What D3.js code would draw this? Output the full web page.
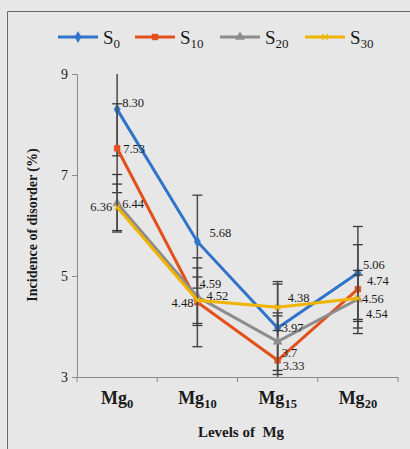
<!DOCTYPE html>
<html>
<head>
<meta charset="utf-8">
<script src="https://cdn.jsdelivr.net/npm/d3@7"></script>
<style>
  body { margin: 0; background: #e7e7e7; }
  svg { display: block; }
  text { font-family: "Liberation Serif", "Times New Roman", serif; fill: #1a1a1a; }
</style>
</head>
<body>
<div class="graph"></div>
<script>
// chart data
const levels = ["0", "10", "15", "20"];           // Mg subscripts
const seriesNames = ["0", "10", "20", "30"];     // S subscripts
const s0 = [8.30, 5.68, 3.97, 5.06];
const s10 = [7.53, 4.48, 3.33, 4.74];
const s20 = [6.44, 4.59, 3.70, 4.54];
const s30 = [6.36, 4.52, 4.38, 4.56];
const errors = [0.92, 0.88, 0.57, 0.46];          // one error size per series
const labelText = [
  ["8.30", "5.68", "3.97", "5.06"],
  ["7.53", "4.48", "3.33", "4.74"],
  ["6.44", "4.59", "3.7", "4.54"],
  ["6.36", "4.52", "4.38", "4.56"]
];
const yTicks = [3, 5, 7, 9];

const values = [s0, s10, s20, s30];
const colors = ["#2f74c9", "#e4501c", "#8c8c8c", "#f0b400"];
const markers = [d3.symbolDiamond, d3.symbolSquare, d3.symbolTriangle, d3.symbolCross];

// where each data label sits relative to its point [dx, dy, anchor]
const labelPlace = [
  [[5, -6, "start"], [12, -9, "start"], [4, 0, "start"], [5, -8, "start"]],
  [[6, 1, "start"], [-4, 1, "end"], [5, 6, "start"], [9, -8, "start"]],
  [[5, 1, "start"], [2, -13, "start"], [4, 11, "start"], [8, 15, "start"]],
  [[-5, 0, "end"], [9, -4, "start"], [10, -9, "start"], [4, 1, "start"]]
];

const w = 410, h = 449;
const svg = d3.select(".graph").append("svg").attr("width", w).attr("height", h);

// outer frame
svg.append("path")
  .attr("d", "M7.5," + h + "V11.5H" + (w + 2))
  .attr("fill", "none").attr("stroke", "#6a6a6a").attr("stroke-width", 1);

const xScale = d3.scaleBand().domain(levels).range([77, 398]).padding(0);
const yScale = d3.scaleLinear().domain([3, 9]).range([377, 74]);
const cx = (i) => xScale(levels[i]) + xScale.bandwidth() / 2;

// y axis
const yAxis = svg.append("g").attr("transform", "translate(77,0)")
  .call(d3.axisLeft(yScale).tickValues(yTicks).tickSize(5).tickFormat(d3.format("d")));
yAxis.select(".domain").attr("stroke", "#8a8a8a");
yAxis.selectAll(".tick line").attr("stroke", "#8a8a8a");
yAxis.selectAll(".tick text").attr("font-size", 14).attr("font-family", "Liberation Serif").attr("fill", "#222").attr("x", -9);

// x axis
const xAxis = svg.append("g").attr("transform", "translate(0,377)")
  .call(d3.axisBottom(xScale).tickSize(0).tickFormat(""));
xAxis.select(".domain").attr("stroke", "#8a8a8a");
xScale.domain().forEach(function(d, i) {
  const x0 = xScale(d);
  xAxis.append("line").attr("x1", x0).attr("x2", x0).attr("y1", 0).attr("y2", 5).attr("stroke", "#8a8a8a");
  if (i === levels.length - 1) {
    xAxis.append("line").attr("x1", x0 + xScale.bandwidth()).attr("x2", x0 + xScale.bandwidth())
      .attr("y1", 0).attr("y2", 5).attr("stroke", "#8a8a8a");
  }
  const t = xAxis.append("text").attr("x", cx(i)).attr("y", 27)
    .attr("text-anchor", "middle").attr("font-weight", "bold").attr("font-size", 18).attr("fill", "#1a1a3a");
  t.append("tspan").text("Mg");
  t.append("tspan").attr("dy", 4).attr("font-size", 12.5).text(d);
});

// axis titles
svg.append("text").attr("x", 241).attr("y", 437)
  .attr("text-anchor", "middle").attr("font-weight", "bold").attr("font-size", 15)
  .text("Levels of\u00a0\u00a0Mg");
svg.append("text").attr("transform", "translate(37,225) rotate(-90)")
  .attr("text-anchor", "middle").attr("font-weight", "bold").attr("font-size", 14)
  .text("Incidence of disorder (%)");

// series: error bars, line, markers
const line = d3.line().x((d, i) => cx(i)).y((d) => yScale(d));
const markPath = (s) => s === 3 ? "M-4,0H4M0,-4V4" : d3.symbol().type(markers[s]).size(34)();
values.forEach(function(vals, s) {
  const g = svg.append("g");
  vals.forEach(function(v, i) {
    const hi = Math.min(9, v + errors[s]);
    const lo = Math.max(3, v - errors[s]);
    const x = cx(i);
    g.append("line").attr("x1", x).attr("x2", x).attr("y1", yScale(hi)).attr("y2", yScale(lo))
      .attr("stroke", "#4a4a4a").attr("stroke-width", 1.5);
    [[v + errors[s], hi], [v - errors[s], lo]].forEach(function(p) {
      if (p[0] === p[1]) {
        g.append("line").attr("x1", x - 5).attr("x2", x + 5)
          .attr("y1", yScale(p[1])).attr("y2", yScale(p[1]))
          .attr("stroke", "#3a3a3a").attr("stroke-width", 1.3);
      }
    });
  });
  g.append("path").datum(vals).attr("d", line)
    .attr("fill", "none").attr("stroke", colors[s]).attr("stroke-width", 3);
  g.selectAll(".mk").data(vals).enter().append("path")
    .attr("transform", (d, i) => "translate(" + cx(i) + "," + yScale(d) + ")" + (s === 3 ? " rotate(45)" : ""))
    .attr("d", markPath(s))
    .attr("fill", s === 3 ? "none" : colors[s])
    .attr("stroke", colors[s]).attr("stroke-width", s === 3 ? 1.2 : 0.5);
});

// data labels
values.forEach(function(vals, s) {
  vals.forEach(function(v, i) {
    const p = labelPlace[s][i];
    svg.append("text").attr("x", cx(i) + p[0]).attr("y", yScale(v) + p[1] + 4)
      .attr("text-anchor", p[2]).attr("font-size", 12.5).text(labelText[s][i]);
  });
});

// legend
const legX = [58, 135, 220, 305];
seriesNames.forEach(function(n, s) {
  const lg = svg.append("g").attr("transform", "translate(" + legX[s] + ",37)");
  lg.append("line").attr("x1", 0).attr("x2", 40).attr("y1", 0).attr("y2", 0)
    .attr("stroke", colors[s]).attr("stroke-width", 3);
  lg.append("path").attr("transform", "translate(20,0)" + (s === 3 ? " rotate(45)" : ""))
    .attr("d", markPath(s))
    .attr("fill", colors[s]).attr("stroke", colors[s]).attr("stroke-width", s === 3 ? 1.2 : 0.5);
  const t = lg.append("text").attr("x", 45).attr("y", 7).attr("font-size", 19);
  t.append("tspan").text("S");
  t.append("tspan").attr("dy", 4).attr("font-size", 13).text(n);
});
</script>
</body>
</html>
